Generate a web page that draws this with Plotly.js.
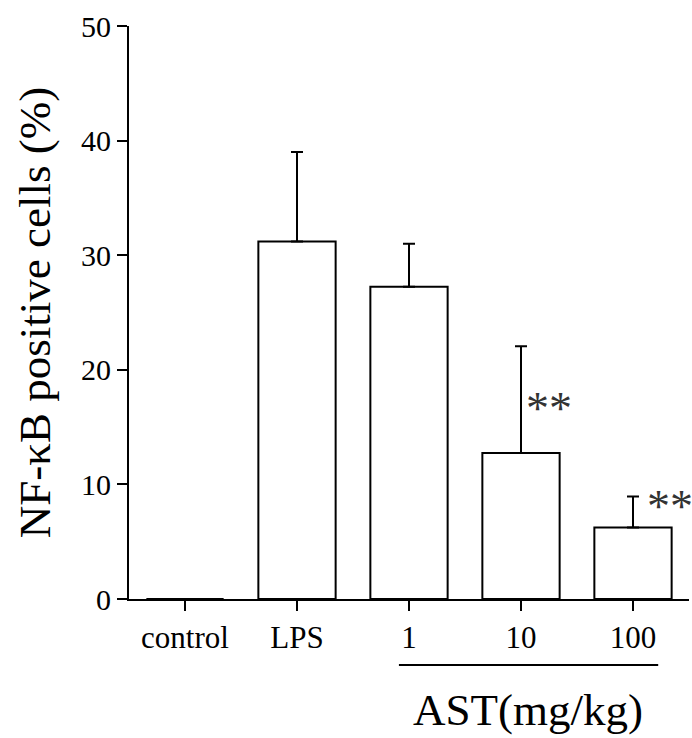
<!DOCTYPE html>
<html>
<head>
<meta charset="utf-8">
<script src="https://cdn.plot.ly/plotly-3.0.1.min.js"></script>
<style>html,body{margin:0;padding:0;background:#fff;}#chart{width:692px;height:738px;}</style>
</head>
<body>
<div id="chart"></div>
<script>
var categories = ["control", "LPS", "1", "10", "100"];
var means = [0, 31.2, 27.25, 12.75, 6.25];
var upperErr = [0, 7.8, 3.75, 9.3, 2.7];
var lowerErr = [0, 0, 0, 0, 0];
var sigLabels = ["", "", "", "**", "**"];
var sigY = [0, 0, 0, 17.0, 8.4];

var FONT = "Liberation Serif, Times New Roman, serif";

var trace = {
  type: "bar",
  x: categories,
  y: means,
  width: 0.69,
  marker: {color: "#ffffff", line: {color: "#000000", width: 2}},
  error_y: {type: "data", symmetric: false, array: upperErr, arrayminus: lowerErr,
            color: "#000000", thickness: 2, width: 6},
  hoverinfo: "skip"
};

var annotations = [];
for (var i = 0; i < categories.length; i++) {
  if (sigLabels[i]) {
    annotations.push({x: i, y: sigY[i], xref: "x", yref: "y", text: sigLabels[i],
      showarrow: false, xshift: i === 3 ? 28 : 37, yshift: -4, xanchor: "center", yanchor: "middle",
      font: {family: FONT, size: 46, color: "#333"}});
  }
}
annotations.push({x: 0.712, y: -0.193, xref: "paper", yref: "paper", text: "AST(mg/kg)",
  showarrow: false, font: {family: FONT, size: 45, color: "#000"}, xanchor: "center", yanchor: "middle"});

var layout = {
  width: 692, height: 738,
  margin: {l: 129, r: 3, t: 26, b: 139},
  paper_bgcolor: "#fff", plot_bgcolor: "#fff",
  showlegend: false,
  font: {family: FONT, color: "#000"},
  xaxis: {type: "category", range: [-0.5, 4.5], showline: true, linecolor: "#000", linewidth: 2,
          ticks: "outside", ticklen: 10, tickwidth: 2, tickcolor: "#000",
          tickfont: {family: FONT, size: 31, color: "#000"}, showgrid: false, zeroline: false, fixedrange: true},
  yaxis: {range: [0, 50], dtick: 10, showline: true, linecolor: "#000", linewidth: 2,
          ticks: "outside", ticklen: 10, tickwidth: 2, tickcolor: "#000",
          tickfont: {family: FONT, size: 30, color: "#000"}, showgrid: false, zeroline: false, fixedrange: true,
          title: {text: "NF-κB positive cells (%)", font: {family: FONT, size: 45, color: "#000"}, standoff: 16}},
  shapes: [{type: "line", xref: "paper", yref: "paper", x0: 0.482, x1: 0.945, y0: -0.115, y1: -0.115,
            line: {color: "#000", width: 2}}],
  annotations: annotations
};

Plotly.newPlot("chart", [trace], layout, {displayModeBar: false, staticPlot: true});
</script>
</body>
</html>
